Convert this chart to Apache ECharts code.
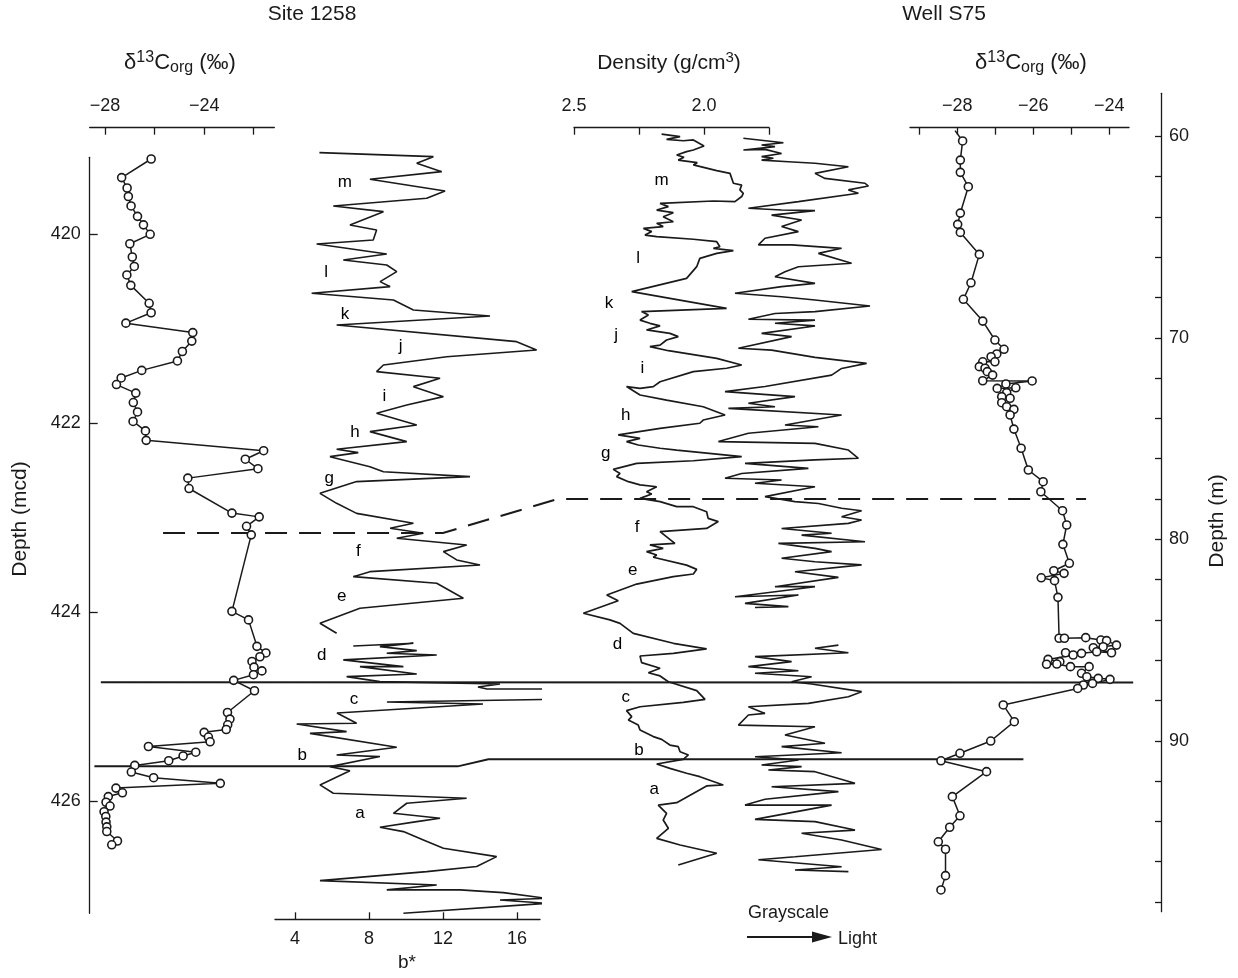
<!DOCTYPE html>
<html><head><meta charset="utf-8">
<script src="https://cdn.jsdelivr.net/npm/echarts@6/dist/echarts.min.js"></script>
<style>html,body{margin:0;padding:0;background:#fff}#c{width:1238px;height:978px}</style>
</head><body><div id="c"></div>
<script>
// ---------------- DATA ----------------
// Site 1258 d13Corg: [permil, depth mcd]
const site1258_d13c = [[-26.14,419.203],[-27.33,419.40],[-27.11,419.51],[-27.06,419.60],[-26.95,419.70],[-26.69,419.81],[-26.45,419.90],[-26.18,420.00],[-27.00,420.10],[-26.90,420.24],[-26.82,420.34],[-27.12,420.43],[-26.96,420.54],[-26.22,420.73],[-26.14,420.83],[-27.16,420.94],[-24.46,421.04],[-24.50,421.13],[-24.88,421.24],[-25.08,421.34],[-26.52,421.44],[-27.35,421.52],[-27.54,421.59],[-26.76,421.68],[-26.86,421.78],[-26.69,421.88],[-26.87,421.98],[-26.37,422.08],[-26.34,422.18],[-21.60,422.29],[-22.34,422.38],[-21.83,422.48],[-24.66,422.58],[-24.61,422.69],[-22.88,422.95],[-21.78,422.99],[-22.29,423.09],[-22.10,423.18],[-22.88,423.99],[-22.21,424.08],[-21.87,424.36],[-21.51,424.43],[-21.75,424.47],[-22.07,424.52],[-21.99,424.58],[-21.67,424.62],[-22.01,424.66],[-22.81,424.72],[-21.97,424.83],[-23.06,425.06],[-22.96,425.13],[-23.05,425.19],[-23.11,425.24],[-24.00,425.27],[-23.83,425.32],[-23.76,425.37],[-26.25,425.42],[-24.34,425.48],[-24.85,425.52],[-25.43,425.57],[-26.80,425.62],[-26.94,425.69],[-26.04,425.75],[-23.35,425.81],[-27.56,425.86],[-27.30,425.91],[-27.87,425.95],[-27.96,426.01],[-27.80,426.05],[-28.04,426.11],[-27.97,426.16],[-27.96,426.22],[-27.93,426.27],[-27.93,426.32],[-27.50,426.42],[-27.73,426.46]];

// Site 1258 b*: [b*, depth mcd]; null = gap
const site1258_bstar = [[5.32,419.136],[11.48,419.178],[10.58,419.249],[11.93,419.337],[8.05,419.418],[12.11,419.541],[11.12,419.619],[6.07,419.700],[8.78,419.760],[6.97,419.901],[8.41,419.954],[8.23,420.060],[5.17,420.102],[8.96,420.208],[6.61,420.272],[8.96,420.325],[9.50,420.395],[8.60,420.501],[9.14,420.554],[4.90,420.624],[9.32,420.695],[10.40,420.801],[14.54,420.864],[6.25,420.959],[15.98,421.136],[17.06,421.224],[12.20,421.295],[8.78,421.383],[8.41,421.453],[11.84,421.524],[10.40,421.612],[12.02,421.718],[10.04,421.806],[8.41,421.894],[10.58,422.018],[8.05,422.088],[10.04,422.194],[6.25,422.275],[7.42,422.310],[5.89,422.353],[8.05,422.459],[8.78,422.512],[13.46,422.564],[7.33,422.617],[5.35,422.741],[6.25,422.847],[7.33,422.953],[10.40,423.058],[9.14,423.111],[10.94,423.164],[9.50,423.217],[13.28,423.288],[12.02,423.358],[12.74,423.446],[14.00,423.499],[8.05,423.570],[7.15,423.623],[11.66,423.693],[13.10,423.852],[7.51,423.958],[5.35,424.116],[6.25,424.222],null,[7.15,424.356],[10.40,424.328],[8.59,424.363],[10.58,424.406],[8.96,424.434],[11.66,424.452],[6.61,424.504],[9.86,424.575],[7.51,424.575],[10.58,424.653],[6.79,424.681],[8.59,424.734],[15.08,424.759],[13.89,424.790],[14.38,424.812],[18.49,424.812],[19.78,424.854],[20.65,424.854],[20.11,424.896],[19.24,424.918],[19.24,424.939],[8.97,424.949],[14.16,424.970],[6.27,425.065],[7.33,425.175],[4.09,425.182],[6.79,425.263],[4.81,425.281],[9.50,425.429],[6.25,425.510],[8.59,425.527],[5.89,425.633],[6.97,425.676],[5.35,425.827],[6.07,425.915],[13.28,425.968],[10.04,426.021],[9.32,426.127],[11.84,426.180],[10.58,426.215],[8.59,426.275],[9.86,426.321],[10.94,426.409],[12.02,426.497],[14.90,426.586],[13.82,426.691],[11.12,426.744],[5.35,426.840],[11.66,426.886],[8.96,426.938],[12.92,426.938],[15.26,426.967],[17.60,427.027],[15.08,427.044],[17.60,427.080],[9.86,427.185]];

// Well S75 density: [g/cm3, depth m]
const wellS75_density = [[2.163,59.89],[2.092,60.02],[2.144,60.15],[2.080,60.22],[2.041,60.18],[2.000,60.48],[2.041,60.68],[2.067,60.76],[2.105,60.93],[2.077,61.04],[2.099,61.18],[2.026,61.31],[2.041,61.42],[1.951,61.70],[1.900,61.84],[1.887,62.33],[1.855,62.42],[1.862,62.66],[1.849,62.83],[1.855,62.99],[1.881,63.24],[1.964,63.21],[2.169,63.33],[2.137,63.49],[2.182,63.66],[2.118,63.79],[2.157,63.99],[2.118,64.24],[2.182,64.32],[2.157,64.48],[2.233,64.57],[2.201,64.73],[2.227,64.90],[2.182,64.98],[2.041,65.11],[1.951,65.23],[1.939,65.48],[1.964,65.56],[1.887,65.67],[1.951,65.81],[2.016,66.06],[2.028,66.47],[2.067,67.05],[2.278,67.71],[1.913,68.54],[2.240,68.70],[2.214,68.87],[2.246,69.12],[2.208,69.28],[2.169,69.41],[2.221,69.61],[2.131,69.78],[2.099,69.94],[2.144,70.11],[2.169,70.36],[2.208,70.44],[2.137,70.64],[1.951,71.02],[1.855,71.35],[1.913,71.51],[2.041,71.68],[2.169,72.18],[2.195,72.42],[2.246,72.51],[2.298,72.42],[2.246,72.84],[2.144,73.09],[2.003,73.42],[1.919,73.83],[2.003,74.08],[2.016,74.24],[2.169,74.49],[2.330,74.82],[2.246,74.99],[2.298,75.15],[2.253,75.32],[2.169,75.48],[2.105,75.57],[1.855,75.90],[2.041,76.10],[2.259,76.23],[2.349,76.53],[2.323,76.73],[2.336,76.89],[2.291,77.14],[2.246,77.30],[2.182,77.39],[2.221,77.64],[2.201,77.75],[2.246,77.97],[2.169,78.13],[2.169,78.21],[2.105,78.38],[2.041,78.38],[1.990,78.63],[1.984,78.96],[1.945,79.12],[1.990,79.46],[2.169,79.62],[2.112,80.20],[2.208,80.28],[2.157,80.45],[2.221,80.61],[2.182,80.78],[2.195,80.89],[2.067,81.28],[2.028,81.49],[2.041,81.72],[2.118,81.85],[2.259,82.22],[2.374,82.76],[2.330,83.05],[2.464,83.67],[2.362,84.00],[2.323,84.17],[2.272,84.67],[2.118,85.16],[1.990,85.44],[2.118,85.66],[2.246,85.79],[2.240,86.12],[2.169,86.40],[2.214,86.62],[2.169,86.78],[2.137,87.07],[2.028,87.51],[1.996,87.94],[2.080,88.09],[2.246,88.31],[2.298,88.50],[2.278,88.80],[2.291,88.97],[2.253,89.22],[2.246,89.46],[2.195,89.79],[2.163,89.93],[2.131,90.21],[2.099,90.29],[2.092,90.54],[2.060,90.70],[2.080,90.92],[2.182,91.15],[2.131,91.37],[2.067,91.61],[2.016,91.78],[1.926,92.19],[1.990,92.24],[2.105,93.07],[2.176,93.19],[2.144,93.60],[2.157,93.93],[2.137,94.34],[2.182,94.84],[2.092,95.17],[1.951,95.58],[2.099,96.16]];

// Well S75 grayscale (relative units, 0 = dark .. 100 = light): [gray, depth m]; null = gap
const wellS75_gray = [[14.2,60.10],[34.2,60.32],[23.3,60.43],[30.0,60.51],[14.2,60.68],[25.0,60.65],[33.3,60.85],[23.3,61.01],[29.2,61.09],[23.3,61.18],[36.7,61.26],[50.0,61.34],[66.7,61.51],[50.0,61.84],[55.0,62.09],[75.0,62.33],[76.7,62.47],[66.7,62.66],[71.7,62.83],[41.7,63.24],[16.7,63.57],[33.3,63.66],[50.0,63.69],[28.3,63.91],[43.3,64.15],[33.3,64.48],[41.7,64.73],[25.0,65.06],[21.7,65.39],[38.3,65.39],[63.3,65.56],[51.7,65.81],[68.3,66.30],[41.7,66.47],[35.0,66.72],[30.0,66.97],[50.0,67.30],[33.3,67.46],[10.0,67.79],[33.3,67.96],[50.0,68.12],[77.5,68.42],[50.0,68.70],[30.0,68.79],[16.7,69.08],[50.0,69.12],[30.0,69.28],[50.0,69.41],[23.3,69.78],[38.3,69.94],[11.7,70.52],[28.3,70.61],[50.0,70.97],[75.8,71.27],[63.3,71.52],[58.3,71.85],[25.0,72.42],[5.0,72.67],[40.0,72.92],[16.7,73.25],[30.0,73.42],[6.7,73.50],[63.3,73.83],[35.0,74.33],[51.7,74.41],[16.7,74.74],[1.7,75.15],[50.0,75.24],[66.7,75.57],[71.7,75.98],[50.0,76.06],[15.0,76.23],[46.7,76.48],[13.3,76.73],[5.0,76.97],[33.3,77.06],[20.0,77.22],[50.0,77.39],[25.0,77.88],[40.0,78.13],[51.7,78.22],[63.3,78.46],[73.3,78.58],[63.3,78.88],[73.3,79.04],[66.7,79.21],[33.3,79.46],[58.3,79.70],[43.3,79.79],[75.0,80.12],[31.7,80.20],[50.0,80.45],[58.3,80.61],[33.3,80.94],[50.0,81.11],[73.3,81.27],[40.0,81.61],[61.7,81.89],[30.0,82.35],[50.0,82.35],[10.0,82.85],[41.7,82.76],[15.0,83.18],[36.7,83.34],[20.0,83.38],null,[61.7,85.25],[50.0,85.41],[66.7,85.63],[20.0,85.82],[38.3,86.07],[16.7,86.32],[41.7,86.52],[20.0,86.65],[48.3,86.82],[38.3,87.07],[48.3,87.18],[73.3,87.56],[66.7,87.81],[46.7,88.14],[16.7,88.31],[25.0,88.64],[16.7,88.72],[11.7,89.22],[50.0,89.30],[35.0,89.71],[55.0,90.12],[33.3,90.29],[63.3,90.59],[20.0,90.79],[41.7,90.95],[23.3,91.20],[43.3,91.28],[26.7,91.45],[50.0,91.53],[70.0,92.11],[28.3,92.28],[61.7,92.52],[25.0,92.90],[15.0,93.19],[58.3,93.19],[20.0,93.90],[50.0,94.01],[70.0,94.43],[43.3,94.59],[63.3,94.92],[83.3,95.39],[40.0,95.75],[21.7,95.90],[63.3,96.25],[40.0,96.41],[66.7,96.49]];

// Well S75 d13Corg: [permil, depth m] (first point = top of line, no sample marker)
const wellS75_d13c_top = [-28.06,59.72];
const wellS75_d13c = [[-27.86,60.23],[-27.92,61.18],[-27.92,61.79],[-27.71,62.50],[-27.92,63.81],[-27.99,64.37],[-27.92,64.77],[-27.42,65.86],[-27.64,67.27],[-27.84,68.09],[-27.33,69.17],[-27.01,70.11],[-26.77,70.57],[-26.96,70.80],[-27.11,70.94],[-27.01,71.19],[-27.33,71.19],[-27.42,71.43],[-27.27,71.51],[-27.21,71.68],[-27.07,71.85],[-27.33,72.13],[-26.03,72.14],[-26.72,72.29],[-26.95,72.51],[-26.46,72.48],[-26.70,72.72],[-26.83,72.92],[-26.61,73.00],[-26.83,73.22],[-26.70,73.42],[-26.51,73.55],[-26.61,73.83],[-26.51,74.53],[-26.32,75.48],[-26.13,76.56],[-25.74,77.14],[-25.80,77.64],[-25.23,78.58],[-25.12,79.29],[-25.22,80.25],[-25.05,81.19],[-25.46,81.56],[-25.19,81.69],[-25.79,81.91],[-25.44,82.05],[-25.35,82.88],[-25.32,84.91],[-25.18,84.91],[-24.62,84.88],[-24.22,85.00],[-24.07,85.03],[-23.81,85.25],[-24.16,85.33],[-24.42,85.38],[-23.94,85.63],[-24.33,85.58],[-24.73,85.66],[-25.15,85.63],[-24.95,85.74],[-25.61,85.96],[-25.30,86.07],[-25.65,86.20],[-25.38,86.19],[-25.02,86.32],[-24.53,86.32],[-24.73,86.65],[-24.59,86.82],[-24.29,86.90],[-23.98,86.95],[-24.44,87.15],[-24.68,87.23],[-24.83,87.40],[-26.79,88.22],[-26.50,89.05],[-27.12,90.01],[-27.93,90.62],[-28.43,90.99],[-27.23,91.53],[-28.13,92.77],[-27.93,93.72],[-28.20,94.29],[-28.50,95.01],[-28.31,95.38],[-28.31,96.69],[-28.43,97.40]];

// Cycle labels
const cycleNames = ['m','l','k','j','i','h','g','f','e','d','c','b','a'];
const cycleSite_bstar = [6.70,5.68,6.70,9.71,8.83,7.24,5.85,7.42,6.52,5.44,7.19,4.39,7.51];
const cycleSite_depth = [419.454,420.406,420.843,421.182,421.719,422.100,422.582,423.359,423.835,424.452,424.921,425.510,426.127];
const cycleWell_density = [2.163,2.253,2.365,2.338,2.237,2.301,2.378,2.257,2.274,2.333,2.301,2.250,2.191];
const cycleWell_depth = [62.20,66.05,68.29,69.86,71.51,73.83,75.73,79.42,81.52,85.21,87.84,90.46,92.41];

// Correlation tie lines (depths at each site)
const tieSiteDepth = [423.16, 424.741, 425.63];
const tieWellDepth = [78.0, 87.10, 90.92];

// Tick values
const siteDepthTicks = [420,422,424,426];
const siteD13cTicks = [-28,-26,-24,-22];
const siteD13cLabels = [-28,-24];
const bstarTicks = [4,8,12,16];
const densityTicks = [1.75,2.0,2.25,2.5];
const densityLabels = [2.0,2.5];
const wellD13cTicks = [-29,-28,-27,-26,-25,-24];
const wellD13cLabels = [-28,-26,-24];
const wellDepthTicks = [60,62,64,66,68,70,72,74,76,78,80,82,84,86,88,90,92,94,96,98];
const wellDepthLabels = [60,70,80,90];

// ---------------- CHART ----------------
const FONT = "'Liberation Sans', Arial, sans-serif";
const INK = '#1a1a1a';
const chart = echarts.init(document.getElementById('c'), null, {renderer:'canvas'});

function segments(arr){ const out=[[]]; arr.forEach(p=>{ if(p===null) out.push([]); else out[out.length-1].push(p); }); return out.filter(s=>s.length); }
const minus = v => String(v).replace('-', '\u2212');
const labelStyle = {color:INK, fontSize:18, fontFamily:FONT};

const traceLine = (name, data, xi, yi, w) => ({
  type:'line', name, data, xAxisIndex:xi, yAxisIndex:yi, symbol:'none', clip:false,
  lineStyle:{color:INK, width:w}, silent:true, z:3
});

const series = [];
series.push({type:'line', data:site1258_d13c, xAxisIndex:0, yAxisIndex:0, symbol:'circle', symbolSize:8,
  itemStyle:{color:'#fff', borderColor:INK, borderWidth:1.6}, lineStyle:{color:INK, width:1.5}, clip:false, z:4});
segments(site1258_bstar).forEach(s=>series.push(traceLine('b*', s, 1, 1, 1.6)));
series.push(traceLine('density', wellS75_density, 2, 2, 1.7));
segments(wellS75_gray).forEach(s=>series.push(traceLine('gray', s, 3, 3, 1.6)));
series.push({type:'line', data:[{value:wellS75_d13c_top, symbol:'none'}].concat(wellS75_d13c), xAxisIndex:4, yAxisIndex:4,
  symbol:'circle', symbolSize:8, itemStyle:{color:'#fff', borderColor:INK, borderWidth:1.6},
  lineStyle:{color:INK, width:1.5}, clip:false, z:4});
const letterLabel = {show:true, position:'inside', formatter:'{b}', color:'#000', opacity:1, fontSize:17, fontFamily:FONT};
series.push({type:'scatter', xAxisIndex:1, yAxisIndex:1, symbolSize:0, silent:true, itemStyle:{opacity:1},
  data: cycleNames.map((n,i)=>({name:n, value:[cycleSite_bstar[i], cycleSite_depth[i]]})),
  label:letterLabel, z:5});
series.push({type:'scatter', xAxisIndex:2, yAxisIndex:2, symbolSize:0, silent:true, itemStyle:{opacity:1},
  data: cycleNames.map((n,i)=>({name:n, value:[cycleWell_density[i], cycleWell_depth[i]]})),
  label:letterLabel, z:5});

const axLine = {show:true, onZero:false, lineStyle:{color:INK, width:1.3}};
const option = {
  animation:false,
  backgroundColor:'#fff',
  grid:[
    {left:89.7, top:157.3, width:184.6, height:756},   // 0 site d13C
    {left:275, top:157.3, width:265, height:762},      // 1 b*
    {left:574, top:127.7, width:195, height:784},      // 2 density
    {left:715, top:127.7, width:200, height:784},      // 3 grayscale
    {left:910, top:127.7, width:219, height:784},      // 4 well d13C
    {left:1100, top:93.3, width:61, height:818.4}      // 5 well depth axis
  ],
  xAxis:[
    {gridIndex:0, type:'value', position:'top', offset:29.6, min:-28.62, max:-21.17, axisLine:axLine,
     axisTick:{inside:true, length:7, customValues:siteD13cTicks, lineStyle:{color:INK, width:1.3}},
     axisLabel:Object.assign({customValues:siteD13cLabels, margin:13, formatter:minus}, labelStyle), splitLine:{show:false}},
    {gridIndex:1, type:'value', position:'bottom', min:2.919, max:17.243, axisLine:axLine,
     axisTick:{inside:true, length:7, customValues:bstarTicks, lineStyle:{color:INK, width:1.3}},
     axisLabel:Object.assign({customValues:bstarTicks, margin:11}, labelStyle), splitLine:{show:false}},
    {gridIndex:2, type:'value', position:'top', inverse:true, min:1.75, max:2.5, axisLine:axLine,
     axisTick:{inside:true, length:7, customValues:densityTicks, lineStyle:{color:INK, width:1.3}},
     axisLabel:Object.assign({customValues:densityLabels, margin:13, formatter:v=>Number(v).toFixed(1)}, labelStyle), splitLine:{show:false}},
    {gridIndex:3, type:'value', show:false, min:0, max:100},
    {gridIndex:4, type:'value', position:'top', min:-29.245, max:-23.48, axisLine:axLine,
     axisTick:{inside:true, length:7, customValues:wellD13cTicks, lineStyle:{color:INK, width:1.3}},
     axisLabel:Object.assign({customValues:wellD13cLabels, margin:13, formatter:minus}, labelStyle), splitLine:{show:false}},
    {gridIndex:5, type:'value', show:false, min:0, max:1}
  ],
  yAxis:[
    {gridIndex:0, type:'value', inverse:true, min:419.185, max:427.185, position:'left', axisLine:axLine,
     axisTick:{inside:true, length:8, customValues:siteDepthTicks, lineStyle:{color:INK, width:1.3}},
     axisLabel:Object.assign({customValues:siteDepthTicks, margin:9}, labelStyle), splitLine:{show:false}},
    {gridIndex:1, type:'value', show:false, inverse:true, min:419.185, max:427.249},
    {gridIndex:2, type:'value', show:false, inverse:true, min:59.573, max:98.48},
    {gridIndex:3, type:'value', show:false, inverse:true, min:59.573, max:98.48},
    {gridIndex:4, type:'value', show:false, inverse:true, min:59.573, max:98.48},
    {gridIndex:5, type:'value', inverse:true, min:57.866, max:98.48, position:'right', axisLine:axLine,
     axisTick:{inside:true, length:6, customValues:wellDepthTicks, lineStyle:{color:INK, width:1.3}},
     axisLabel:Object.assign({customValues:wellDepthLabels, margin:8}, labelStyle), splitLine:{show:false}}
  ],
  series
};
chart.setOption(option);

// ---------- annotations (texts, tie lines) ----------
const X = (i,v)=>chart.convertToPixel({xAxisIndex:i}, v);
const Y = (i,v)=>chart.convertToPixel({yAxisIndex:i}, v);
const richD13C = {
  sup:{fontSize:16, fontFamily:FONT, fill:INK, padding:[0,0,11,0]},
  sub:{fontSize:16, fontFamily:FONT, fill:INK, padding:[10,0,0,0]}
};
const richDen = {
  sup:{fontSize:15, fontFamily:FONT, fill:INK, padding:[0,0,10,0]}
};
function txt(text, x, y, size, opts){
  return Object.assign({type:'text', x, y, silent:true, z:10,
    style:{text, fill:INK, fontSize:size, fontFamily:FONT, align:'center', verticalAlign:'middle'}}, opts||{});
}
const sD = tieSiteDepth.map(d=>Y(0,d));
const wD = tieWellDepth.map(d=>Y(2,d));
const graphics = [
  txt('Site 1258', 312, 14, 21),
  txt('Well S75', 944, 14, 21),
  {type:'text', x:180, y:63, silent:true, style:{text:'\u03b4{sup|13}C{sub|org} (\u2030)', rich:richD13C, fill:INK, fontSize:22, fontFamily:FONT, align:'center', verticalAlign:'middle'}},
  {type:'text', x:1031, y:63, silent:true, style:{text:'\u03b4{sup|13}C{sub|org} (\u2030)', rich:richD13C, fill:INK, fontSize:22, fontFamily:FONT, align:'center', verticalAlign:'middle'}},
  {type:'text', x:669, y:63, silent:true, style:{text:'Density (g/cm{sup|3})', rich:richDen, fill:INK, fontSize:21, fontFamily:FONT, align:'center', verticalAlign:'middle'}},
  txt('Depth (mcd)', 20, 519, 21, {rotation:Math.PI/2}),
  txt('Depth (m)', 1217, 521, 21, {rotation:Math.PI/2}),
  txt('b*', 407, 963, 19),
  {type:'text', x:748, y:913, silent:true, style:{text:'Grayscale', fill:INK, fontSize:18, fontFamily:FONT, align:'left', verticalAlign:'middle'}},
  {type:'text', x:838, y:939, silent:true, style:{text:'Light', fill:INK, fontSize:18, fontFamily:FONT, align:'left', verticalAlign:'middle'}},
  {type:'line', silent:true, shape:{x1:747, y1:937, x2:815, y2:937}, style:{stroke:INK, lineWidth:2}},
  {type:'polygon', silent:true, shape:{points:[[812,931.5],[832,937],[812,942.5]]}, style:{fill:INK}},
  // dashed tie
  {type:'polyline', silent:true, z:2, shape:{points:[[X(0,-25.66), sD[0]],[X(1,12.0), sD[0]],[X(2,2.562), wD[0]],[X(4,-24.61), wD[0]]]},
   style:{stroke:INK, lineWidth:2, lineDash:[22,12], fill:null}},
  // solid ties
  {type:'polyline', silent:true, z:2, shape:{points:[[X(0,-28.17), sD[1]],[X(4,-23.37), wD[1]]]},
   style:{stroke:INK, lineWidth:2, fill:null}},
  {type:'polyline', silent:true, z:2, shape:{points:[[X(0,-28.43), sD[2]],[X(1,12.8), sD[2]],[X(1,14.45), wD[2]],[X(4,-26.26), wD[2]]]},
   style:{stroke:INK, lineWidth:2, fill:null}}
];
chart.setOption({graphic:graphics});
</script></body></html>
